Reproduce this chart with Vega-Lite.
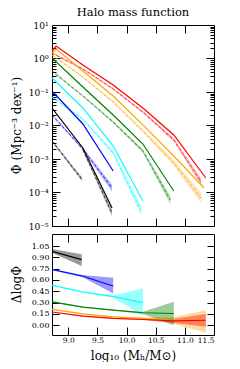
{
  "$schema": "https://vega.github.io/schema/vega-lite/v6.json",
  "background": "white",
  "padding": {"left": 9, "top": 6, "right": 0, "bottom": 0},
  "config": {
    "font": "DejaVu Serif",
    "view": {"stroke": "black", "strokeWidth": 1},
    "axis": {"domain": false, "grid": false, "ticks": true, "tickColor": "#000000", "tickWidth": 1, "tickOpacity": 1, "zindex": 1, "labelFont": "DejaVu Serif", "labelFontSize": 8, "labelColor": "black", "labelOverlap": false, "titleFont": "DejaVu Serif", "titleFontSize": 12, "titleFontWeight": "normal", "titleColor": "black"},
    "title": {"font": "DejaVu Serif", "fontSize": 11.5, "fontWeight": "normal", "color": "black"}
  },
  "datasets": {
    "bandsTop": [
      {"s": "rB", "c": "#ff0000", "x": 8.72, "y": 1.46, "lo": 1.394, "hi": 1.529},
      {"s": "rB", "c": "#ff0000", "x": 9.25, "y": 0.486, "lo": 0.464, "hi": 0.509},
      {"s": "rB", "c": "#ff0000", "x": 9.77, "y": 0.123, "lo": 0.1175, "hi": 0.1288},
      {"s": "rB", "c": "#ff0000", "x": 10.28, "y": 0.0253, "lo": 0.0236, "hi": 0.0271},
      {"s": "rB", "c": "#ff0000", "x": 10.81, "y": 0.00372, "lo": 0.00332, "hi": 0.00417},
      {"s": "rB", "c": "#ff0000", "x": 11.28, "y": 0.000206, "lo": 0.000164, "hi": 0.000259},
      {"s": "oB", "c": "#ffa500", "x": 8.72, "y": 1.27, "lo": 1.213, "hi": 1.33},
      {"s": "oB", "c": "#ffa500", "x": 9.25, "y": 0.281, "lo": 0.268, "hi": 0.294},
      {"s": "oB", "c": "#ffa500", "x": 9.77, "y": 0.0502, "lo": 0.0468, "hi": 0.0538},
      {"s": "oB", "c": "#ffa500", "x": 10.28, "y": 0.00686, "lo": 0.00626, "hi": 0.00752},
      {"s": "oB", "c": "#ffa500", "x": 10.81, "y": 0.00076, "lo": 0.000632, "hi": 0.000913},
      {"s": "oB", "c": "#ffa500", "x": 11.28, "y": 0.0000686, "lo": 0.0000485, "hi": 0.0000969},
      {"s": "gB", "c": "#008000", "x": 8.72, "y": 0.424, "lo": 0.405, "hi": 0.444},
      {"s": "gB", "c": "#008000", "x": 9.25, "y": 0.076, "lo": 0.0726, "hi": 0.0796},
      {"s": "gB", "c": "#008000", "x": 9.77, "y": 0.0127, "lo": 0.01185, "hi": 0.01361},
      {"s": "gB", "c": "#008000", "x": 10.28, "y": 0.00173, "lo": 0.00154, "hi": 0.00194},
      {"s": "gB", "c": "#008000", "x": 10.75, "y": 0.0000597, "lo": 0.0000453, "hi": 0.0000787},
      {"s": "cB", "c": "#00ffff", "x": 8.72, "y": 0.071, "lo": 0.0678, "hi": 0.0743},
      {"s": "cB", "c": "#00ffff", "x": 9.25, "y": 0.0156, "lo": 0.01455, "hi": 0.01672},
      {"s": "cB", "c": "#00ffff", "x": 9.77, "y": 0.00151, "lo": 0.001346, "hi": 0.001694},
      {"s": "cB", "c": "#00ffff", "x": 10.25, "y": 0.0000281, "lo": 0.0000199, "hi": 0.0000397},
      {"s": "bB", "c": "#0000ff", "x": 8.72, "y": 0.0206, "lo": 0.01967, "hi": 0.02157},
      {"s": "bB", "c": "#0000ff", "x": 9.25, "y": 0.00199, "lo": 0.001816, "hi": 0.002181},
      {"s": "bB", "c": "#0000ff", "x": 9.75, "y": 0.000136, "lo": 0.000108, "hi": 0.000171},
      {"s": "kB", "c": "#000000", "x": 9.25, "y": 0.00186, "lo": 0.001735, "hi": 0.001994},
      {"s": "kB", "c": "#000000", "x": 9.75, "y": 0.0000244, "lo": 0.0000194, "hi": 0.0000307},
      {"s": "kC", "c": "#000000", "x": 8.72, "y": 0.00344, "lo": 0.00321, "hi": 0.00369},
      {"s": "kC", "c": "#000000", "x": 9.23, "y": 0.000253, "lo": 0.00022, "hi": 0.00029}
    ],
    "solidTop": [
      {"s": "rA", "c": "#ff0000", "g": 1, "x": 8.72, "y": 1.675},
      {"s": "rA", "c": "#ff0000", "g": 1, "x": 8.79, "y": 2.36},
      {"s": "rA", "c": "#ff0000", "g": 1, "x": 9.25, "y": 0.64},
      {"s": "rA", "c": "#ff0000", "g": 1, "x": 9.77, "y": 0.162},
      {"s": "rA", "c": "#ff0000", "g": 1, "x": 10.28, "y": 0.0333},
      {"s": "rA", "c": "#ff0000", "g": 1, "x": 10.81, "y": 0.0052},
      {"s": "rA", "c": "#ff0000", "g": 1, "x": 11.36, "y": 0.000271},
      {"s": "oA", "c": "#ffa500", "g": 1, "x": 8.72, "y": 1.46},
      {"s": "oA", "c": "#ffa500", "g": 1, "x": 8.79, "y": 1.92},
      {"s": "oA", "c": "#ffa500", "g": 1, "x": 9.25, "y": 0.424},
      {"s": "oA", "c": "#ffa500", "g": 1, "x": 9.77, "y": 0.076},
      {"s": "oA", "c": "#ffa500", "g": 1, "x": 10.28, "y": 0.0104},
      {"s": "oA", "c": "#ffa500", "g": 1, "x": 10.81, "y": 0.00123},
      {"s": "oA", "c": "#ffa500", "g": 1, "x": 11.33, "y": 0.000136},
      {"s": "gA", "c": "#008000", "g": 1, "x": 8.72, "y": 1.035},
      {"s": "gA", "c": "#008000", "g": 1, "x": 9.25, "y": 0.141},
      {"s": "gA", "c": "#008000", "g": 1, "x": 9.77, "y": 0.0206},
      {"s": "gA", "c": "#008000", "g": 1, "x": 10.28, "y": 0.0028},
      {"s": "gA", "c": "#008000", "g": 1, "x": 10.81, "y": 0.000111},
      {"s": "cA", "c": "#00ffff", "g": 2, "x": 8.72, "y": 0.262},
      {"s": "cA", "c": "#00ffff", "g": 2, "x": 9.25, "y": 0.0333},
      {"s": "cA", "c": "#00ffff", "g": 2, "x": 9.77, "y": 0.00244},
      {"s": "cA", "c": "#00ffff", "g": 2, "x": 10.28, "y": 0.0000557},
      {"s": "bA", "c": "#0000ff", "g": 2, "x": 8.72, "y": 0.107},
      {"s": "bA", "c": "#0000ff", "g": 2, "x": 9.25, "y": 0.0111},
      {"s": "bA", "c": "#0000ff", "g": 2, "x": 9.77, "y": 0.000439},
      {"s": "kA", "c": "#000000", "g": 2, "x": 8.72, "y": 0.0333},
      {"s": "kA", "c": "#000000", "g": 2, "x": 9.25, "y": 0.00213},
      {"s": "kA", "c": "#000000", "g": 2, "x": 9.75, "y": 0.0000344}
    ],
    "bandsBot": [
      {"s": "o", "c": "#ffa500", "x": 8.72, "d": 0.21, "lo": 0.205, "hi": 0.215},
      {"s": "o", "c": "#ffa500", "x": 9.25, "d": 0.15, "lo": 0.145, "hi": 0.155},
      {"s": "o", "c": "#ffa500", "x": 9.77, "d": 0.11, "lo": 0.105, "hi": 0.115},
      {"s": "o", "c": "#ffa500", "x": 10.28, "d": 0.09, "lo": 0.08, "hi": 0.10},
      {"s": "o", "c": "#ffa500", "x": 10.81, "d": 0.065, "lo": 0.02, "hi": 0.11},
      {"s": "o", "c": "#ffa500", "x": 11.36, "d": 0.065, "lo": -0.10, "hi": 0.20},
      {"s": "r", "c": "#ff0000", "x": 8.72, "d": 0.175, "lo": 0.17, "hi": 0.18},
      {"s": "r", "c": "#ff0000", "x": 9.25, "d": 0.12, "lo": 0.115, "hi": 0.125},
      {"s": "r", "c": "#ff0000", "x": 9.77, "d": 0.09, "lo": 0.085, "hi": 0.095},
      {"s": "r", "c": "#ff0000", "x": 10.28, "d": 0.075, "lo": 0.068, "hi": 0.082},
      {"s": "r", "c": "#ff0000", "x": 10.81, "d": 0.057, "lo": 0.03, "hi": 0.085},
      {"s": "r", "c": "#ff0000", "x": 11.36, "d": 0.065, "lo": -0.02, "hi": 0.15},
      {"s": "g", "c": "#008000", "x": 8.72, "d": 0.31, "lo": 0.30, "hi": 0.32},
      {"s": "g", "c": "#008000", "x": 9.25, "d": 0.24, "lo": 0.235, "hi": 0.245},
      {"s": "g", "c": "#008000", "x": 9.77, "d": 0.20, "lo": 0.195, "hi": 0.205},
      {"s": "g", "c": "#008000", "x": 10.28, "d": 0.165, "lo": 0.15, "hi": 0.18},
      {"s": "g", "c": "#008000", "x": 10.81, "d": 0.155, "lo": 0.0, "hi": 0.31},
      {"s": "cy", "c": "#00ffff", "x": 8.72, "d": 0.53, "lo": 0.52, "hi": 0.54},
      {"s": "cy", "c": "#00ffff", "x": 9.25, "d": 0.44, "lo": 0.43, "hi": 0.45},
      {"s": "cy", "c": "#00ffff", "x": 9.77, "d": 0.38, "lo": 0.365, "hi": 0.395},
      {"s": "cy", "c": "#00ffff", "x": 10.28, "d": 0.30, "lo": 0.13, "hi": 0.49},
      {"s": "b", "c": "#0000ff", "x": 8.72, "d": 0.74, "lo": 0.73, "hi": 0.75},
      {"s": "b", "c": "#0000ff", "x": 9.25, "d": 0.65, "lo": 0.635, "hi": 0.665},
      {"s": "b", "c": "#0000ff", "x": 9.77, "d": 0.52, "lo": 0.42, "hi": 0.63},
      {"s": "k", "c": "#000000", "x": 8.72, "d": 0.98, "lo": 0.96, "hi": 1.01},
      {"s": "k", "c": "#000000", "x": 9.23, "d": 0.87, "lo": 0.785, "hi": 0.94}
    ]
  },
  "vconcat": [
    {
      "width": 162,
      "height": 201,
      "title": {"text": "Halo mass function", "offset": 3},
      "layer": [
        {
          "data": {"name": "bandsTop"},
          "mark": {"type": "area", "opacity": 0.3, "clip": true},
          "encoding": {
            "x": {"field": "x", "type": "quantitative", "scale": {"domain": [8.72, 11.5], "nice": false, "zero": false},
                  "axis": {"orient": "bottom", "values": [9, 9.5, 10, 10.5, 11], "offset": -8, "tickSize": 8, "labels": false, "title": null}},
            "y": {"field": "lo", "type": "quantitative", "scale": {"type": "log", "domain": [0.00001, 10], "nice": false},
                  "axis": {"orient": "left", "values": [10, 1, 0.1, 0.01, 0.001, 0.0001, 0.00001], "offset": -8, "tickSize": 8, "labelPadding": 4, "labelFontSize": 9,
                           "labelExpr": "datum.value >= 9 ? '10¹' : datum.value >= 0.9 ? '10⁰' : datum.value >= 0.09 ? '10⁻¹' : datum.value >= 0.009 ? '10⁻²' : datum.value >= 0.0009 ? '10⁻³' : datum.value >= 0.00009 ? '10⁻⁴' : '10⁻⁵'",
                           "title": "Φ (Mpc⁻³ dex⁻¹)", "titleX": -44, "titleY": 100, "titleBaseline": "middle"}},
            "y2": {"field": "hi"},
            "color": {"field": "c", "type": "nominal", "scale": null},
            "detail": {"field": "s"}
          }
        },
        {
          "data": {"name": "bandsTop"},
          "mark": {"type": "line", "strokeDash": [3, 2], "strokeWidth": 1.1, "opacity": 0.6, "clip": true},
          "encoding": {
            "x": {"field": "x", "type": "quantitative", "scale": {"domain": [8.72, 11.5], "nice": false, "zero": false},
                  "axis": {"orient": "top", "values": [9, 9.5, 10, 10.5, 11], "offset": -8, "tickSize": 8, "labels": false, "title": null}},
            "y": {"field": "y", "type": "quantitative", "scale": {"type": "log", "domain": [0.00001, 10], "nice": false},
                  "axis": {"orient": "left", "values": [0.00002, 0.00003, 0.00004, 0.00005, 0.00006, 0.00007, 0.00008, 0.00009, 0.0002, 0.0003, 0.0004, 0.0005, 0.0006, 0.0007, 0.0008, 0.0009, 0.002, 0.003, 0.004, 0.005, 0.006, 0.007, 0.008, 0.009, 0.02, 0.03, 0.04, 0.05, 0.06, 0.07, 0.08, 0.09, 0.2, 0.3, 0.4, 0.5, 0.6, 0.7, 0.8, 0.9, 2, 3, 4, 5, 6, 7, 8, 9], "offset": -4, "tickSize": 4, "labels": false, "title": null}},
            "color": {"field": "c", "type": "nominal", "scale": null},
            "detail": {"field": "s"}
          }
        },
        {
          "data": {"name": "solidTop"},
          "transform": [{"filter": "datum.g == 1"}],
          "mark": {"type": "line", "strokeWidth": 1.2, "clip": true},
          "encoding": {
            "x": {"field": "x", "type": "quantitative", "scale": {"domain": [8.72, 11.5], "nice": false, "zero": false}, "axis": null},
            "y": {"field": "y", "type": "quantitative", "scale": {"type": "log", "domain": [0.00001, 10], "nice": false},
                  "axis": {"orient": "right", "values": [10, 1, 0.1, 0.01, 0.001, 0.0001, 0.00001], "offset": -8, "tickSize": 8, "labels": false, "title": null}},
            "color": {"field": "c", "type": "nominal", "scale": null},
            "detail": {"field": "s"}
          }
        },
        {
          "data": {"name": "solidTop"},
          "transform": [{"filter": "datum.g == 2"}],
          "mark": {"type": "line", "strokeWidth": 1.2, "clip": true},
          "encoding": {
            "x": {"field": "x", "type": "quantitative", "scale": {"domain": [8.72, 11.5], "nice": false, "zero": false}, "axis": null},
            "y": {"field": "y", "type": "quantitative", "scale": {"type": "log", "domain": [0.00001, 10], "nice": false},
                  "axis": {"orient": "right", "values": [0.00002, 0.00003, 0.00004, 0.00005, 0.00006, 0.00007, 0.00008, 0.00009, 0.0002, 0.0003, 0.0004, 0.0005, 0.0006, 0.0007, 0.0008, 0.0009, 0.002, 0.003, 0.004, 0.005, 0.006, 0.007, 0.008, 0.009, 0.02, 0.03, 0.04, 0.05, 0.06, 0.07, 0.08, 0.09, 0.2, 0.3, 0.4, 0.5, 0.6, 0.7, 0.8, 0.9, 2, 3, 4, 5, 6, 7, 8, 9], "offset": -4, "tickSize": 4, "labels": false, "title": null}},
            "color": {"field": "c", "type": "nominal", "scale": null},
            "detail": {"field": "s"}
          }
        }
      ],
      "resolve": {"axis": {"x": "independent", "y": "independent"}}
    },
    {
      "width": 162,
      "height": 101,
      "layer": [
        {
          "data": {"name": "bandsBot"},
          "mark": {"type": "area", "opacity": 0.4, "clip": true},
          "encoding": {
            "x": {"field": "x", "type": "quantitative", "scale": {"domain": [8.72, 11.5], "nice": false, "zero": false},
                  "axis": {"orient": "bottom", "values": [9, 9.5, 10, 10.5, 11, 11.5], "offset": -8, "tickSize": 8, "labelPadding": 1, "labelFontSize": 7.5, "format": ".1f",
                           "title": "log₁₀ (Mₕ/M⊙)", "titleX": 81, "titleY": 28, "titleBaseline": "middle"}},
            "y": {"field": "lo", "type": "quantitative", "scale": {"domain": [-0.13, 1.21], "nice": false, "zero": false},
                  "axis": {"orient": "left", "values": [0, 0.15, 0.3, 0.45, 0.6, 0.75, 0.9, 1.05], "format": ".2f", "offset": -7, "tickSize": 7, "labelPadding": 3,
                           "title": "ΔlogΦ", "titleX": -43, "titleY": 50, "titleBaseline": "middle"}},
            "y2": {"field": "hi"},
            "color": {"field": "c", "type": "nominal", "scale": null},
            "detail": {"field": "s"}
          }
        },
        {
          "data": {"name": "bandsBot"},
          "mark": {"type": "line", "strokeWidth": 1.1, "clip": true},
          "encoding": {
            "x": {"field": "x", "type": "quantitative", "scale": {"domain": [8.72, 11.5], "nice": false, "zero": false},
                  "axis": {"orient": "top", "values": [9, 9.5, 10, 10.5, 11], "offset": -8, "tickSize": 8, "labels": false, "title": null}},
            "y": {"field": "d", "type": "quantitative", "scale": {"domain": [-0.13, 1.21], "nice": false, "zero": false},
                  "axis": {"orient": "right", "values": [0, 0.15, 0.3, 0.45, 0.6, 0.75, 0.9, 1.05], "offset": -7, "tickSize": 7, "labels": false, "title": null}},
            "color": {"field": "c", "type": "nominal", "scale": null},
            "detail": {"field": "s"}
          }
        }
      ],
      "resolve": {"axis": {"x": "independent", "y": "independent"}}
    }
  ],
  "spacing": 8,
  "bounds": "flush"
}
